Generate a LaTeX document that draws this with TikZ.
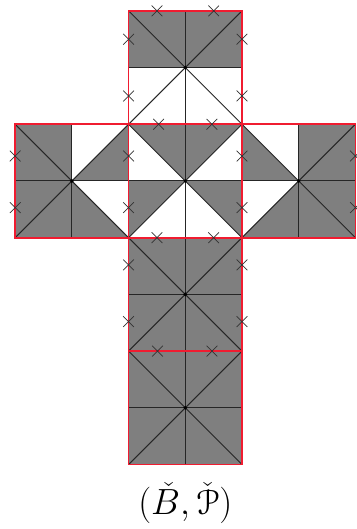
\documentclass[tikz,border=0pt]{standalone}
\usepackage{amsmath,amssymb}
\usepackage[mathscr]{eucal}
\usetikzlibrary{shapes.misc}
\definecolor{facegray}{HTML}{7F7F7F}
\definecolor{seamred}{HTML}{F01C30}

\begin{document}
\begin{tikzpicture}[
    x=1.134cm,
    y=1.134cm,
    face/.style={fill=facegray, draw=none},
    edgeline/.style={black!85, line width=0.55pt},
    seamline/.style={seamred, line width=1pt},
    xmark/.style={cross out, draw=black!80, line width=0.4pt, minimum size=0.2cm, inner sep=0pt},
    vertexdot/.style={circle, fill=black, inner sep=0pt, minimum size=2.2pt}
]
\useasboundingbox (-3.268,3.192) rectangle (3.028,-6.138);

% Gray faces: top square
\fill[face] (-1,3) rectangle (1,2);

% Gray faces: centre square
\fill[face] (-1,1) -- (1,1) -- (0,0) -- cycle;
\fill[face] (-1,0) -- (0,0) -- (-1,-1) -- cycle;
\fill[face] (1,0) -- (0,0) -- (1,-1) -- cycle;

% Gray faces: left square
\fill[face] (-3,-1) rectangle (-2,1);
\fill[face] (-1,1) -- (-1,0) -- (-2,0) -- cycle;
\fill[face] (-2,0) -- (-1,-1) -- (-2,-1) -- cycle;

% Gray faces: right square
\fill[face] (2,-1) rectangle (3,1);
\fill[face] (1,1) -- (1,0) -- (2,0) -- cycle;
\fill[face] (2,0) -- (1,-1) -- (2,-1) -- cycle;

% Gray faces: two lower squares
\fill[face] (-1,-1) rectangle (1,-5);

% Subdivision of each square from its centre
\foreach \cx/\cy in {0/2, -2/0, 0/0, 2/0, 0/-2, 0/-4} {
    \draw[edgeline] (\cx-1,\cy+1) -- (\cx+1,\cy-1);
    \draw[edgeline] (\cx-1,\cy-1) -- (\cx+1,\cy+1);
    \draw[edgeline] (\cx-1,\cy) -- (\cx+1,\cy);
    \draw[edgeline] (\cx,\cy-1) -- (\cx,\cy+1);
}

% Red outlines of the squares
\foreach \cx/\cy in {0/2, -2/0, 0/0, 2/0, 0/-2, 0/-4} {
    \draw[seamline] (\cx-1,\cy-1) rectangle (\cx+1,\cy+1);
}

% Crosses on the seams
\foreach \mx/\my [count=\i] in {
    -0.5/3, 0.5/3, -1/2.5, 1/2.5, -1/1.5, 1/1.5,
    -0.47/1, 0.47/1, -1/0.44, 1/0.44, -1/-0.47, 1/-0.47, -0.5/-1, 0.5/-1,
    -3/0.44, -3/-0.47, 3/0.44, 3/-0.47,
    -1/-1.48, 1/-1.48, -1/-2.48, 1/-2.48, -0.49/-3, 0.47/-3} {
    \node[xmark] (m\i) at (\mx,\my) {};
}

% Centres of the squares
\foreach \cx/\cy [count=\i] in {0/2, -2/0, 0/0, 2/0, 0/-2, 0/-4} {
    \node[vertexdot] (v\i) at (\cx,\cy) {};
}

\node[font=\fontsize{20}{24}\selectfont] (caption) at (0,-5.68) {$(\check{B},\check{\mathscr{P}})$};

\end{tikzpicture}
\end{document}
